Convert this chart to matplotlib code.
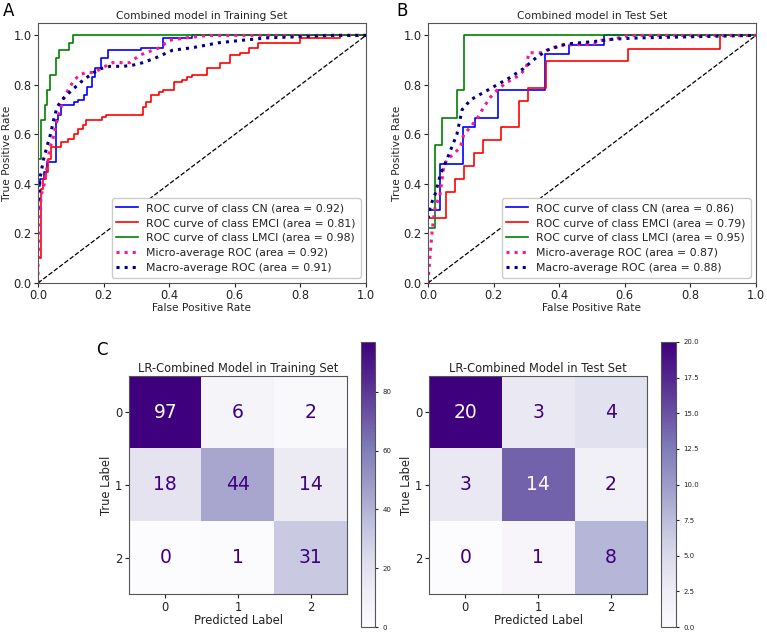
import numpy as np
from matplotlib import pyplot as plt

# ---- ROC data, training set (corner points) ----
tr_cn_fpr = [0, 0, 0.007, 0.017, 0.027, 0.055, 0.060, 0.070, 0.110, 0.122, 0.140, 0.148, 0.165, 0.175, 0.192, 0.212, 0.315, 0.380, 0.470, 1.0]
tr_cn_tpr = [0, 0.39, 0.42, 0.45, 0.49, 0.66, 0.68, 0.72, 0.73, 0.74, 0.76, 0.79, 0.83, 0.87, 0.91, 0.94, 0.95, 0.99, 1.0, 1.0]
tr_emci_fpr = [0, 0, 0.009, 0.014, 0.024, 0.029, 0.040, 0.070, 0.090, 0.110, 0.121, 0.136, 0.146, 0.195, 0.207, 0.319, 0.330, 0.345, 0.370, 0.380, 0.414, 0.439, 0.455, 0.470, 0.515, 0.556, 0.586, 0.617, 0.642, 0.670, 0.800, 0.920, 1.0]
tr_emci_tpr = [0, 0.10, 0.38, 0.42, 0.45, 0.50, 0.55, 0.57, 0.58, 0.60, 0.62, 0.64, 0.66, 0.67, 0.68, 0.71, 0.73, 0.76, 0.77, 0.78, 0.81, 0.82, 0.83, 0.84, 0.87, 0.89, 0.92, 0.93, 0.95, 0.97, 0.99, 1.0, 1.0]
tr_lmci_fpr = [0, 0, 0.010, 0.020, 0.027, 0.038, 0.056, 0.065, 0.094, 0.106, 1.0]
tr_lmci_tpr = [0, 0.50, 0.66, 0.72, 0.78, 0.84, 0.91, 0.94, 0.97, 1.0, 1.0]
tr_micro_fpr = [0, 0, 0.004, 0.009, 0.019, 0.029, 0.035, 0.045, 0.055, 0.065, 0.080, 0.096, 0.111, 0.126, 0.146, 0.172, 0.197, 0.228, 0.280, 0.310, 0.370, 0.400, 0.450, 0.520, 1.0]
tr_micro_tpr = [0, 0.10, 0.12, 0.35, 0.40, 0.48, 0.54, 0.58, 0.64, 0.69, 0.75, 0.79, 0.82, 0.84, 0.85, 0.85, 0.87, 0.89, 0.89, 0.92, 0.95, 0.98, 0.99, 1.0, 1.0]
tr_macro_fpr = [0, 0.007, 0.017, 0.027, 0.038, 0.048, 0.058, 0.073, 0.088, 0.109, 0.129, 0.149, 0.170, 0.190, 0.220, 0.260, 0.290, 0.320, 0.360, 0.410, 0.470, 0.550, 0.620, 0.700, 0.800, 0.900, 1.0]
tr_macro_tpr = [0.30, 0.43, 0.50, 0.55, 0.60, 0.66, 0.71, 0.74, 0.76, 0.785, 0.81, 0.83, 0.85, 0.865, 0.875, 0.875, 0.88, 0.89, 0.91, 0.94, 0.95, 0.97, 0.98, 0.99, 0.995, 1.0, 1.0]

# ---- ROC data, test set ----
te_cn_fpr = [0, 0, 0.0357, 0.107, 0.143, 0.214, 0.357, 0.429, 0.536, 1.0]
te_cn_tpr = [0, 0.296, 0.481, 0.630, 0.667, 0.778, 0.926, 0.963, 1.0, 1.0]
te_emci_fpr = [0, 0, 0.056, 0.083, 0.111, 0.139, 0.167, 0.222, 0.278, 0.306, 0.361, 0.611, 0.889, 1.0]
te_emci_tpr = [0, 0.263, 0.368, 0.421, 0.474, 0.526, 0.579, 0.632, 0.737, 0.789, 0.895, 0.947, 1.0, 1.0]
te_lmci_fpr = [0, 0, 0.0217, 0.0435, 0.087, 0.109, 1.0]
te_lmci_tpr = [0, 0.222, 0.556, 0.667, 0.778, 1.0, 1.0]
te_micro_fpr = [0, 0.005, 0.012, 0.017, 0.022, 0.036, 0.043, 0.048, 0.058, 0.078, 0.099, 0.109, 0.130, 0.150, 0.170, 0.190, 0.215, 0.240, 0.280, 0.300, 0.307, 0.353, 0.363, 0.400, 0.505, 0.530, 0.566, 0.610, 1.0]
te_micro_tpr = [0, 0.09, 0.20, 0.26, 0.31, 0.35, 0.42, 0.47, 0.50, 0.52, 0.55, 0.60, 0.63, 0.665, 0.71, 0.75, 0.785, 0.81, 0.84, 0.87, 0.93, 0.93, 0.94, 0.96, 0.965, 0.98, 0.985, 1.0, 1.0]
te_macro_fpr = [0, 0.007, 0.022, 0.038, 0.058, 0.073, 0.088, 0.104, 0.130, 0.170, 0.210, 0.250, 0.290, 0.330, 0.363, 0.420, 0.505, 0.566, 0.647, 1.0]
te_macro_tpr = [0.26, 0.31, 0.36, 0.44, 0.50, 0.55, 0.60, 0.70, 0.74, 0.77, 0.80, 0.83, 0.865, 0.91, 0.94, 0.965, 0.975, 0.985, 0.99, 1.0]

tr_auc = [0.92, 0.81, 0.98, 0.92, 0.91]
te_auc = [0.86, 0.79, 0.95, 0.87, 0.88]
class_names = ["CN", "EMCI", "LMCI"]

# ---- confusion matrices ----
cm_train = np.array([[97, 6, 2], [18, 44, 14], [0, 1, 31]])
cm_test = np.array([[20, 3, 4], [3, 14, 2], [0, 1, 8]])

plt.rcParams['font.family'] = 'DejaVu Sans'
plt.rcParams['text.color'] = '#222222'
plt.rcParams['axes.labelcolor'] = '#222222'
plt.rcParams['xtick.color'] = '#222222'
plt.rcParams['ytick.color'] = '#222222'
plt.rcParams['axes.edgecolor'] = '#555555'

fig = plt.figure(figsize=(7.67, 6.34), dpi=100)
W, H = 767.0, 634.0


def box(x0, y0, x1, y1):
    return [x0 / W, 1 - y1 / H, (x1 - x0) / W, (y1 - y0) / H]


def draw_roc(ax, curves, aucs, title):
    colors = ["blue", "red", "green"]
    for i in range(3):
        f, t = curves[i]
        ax.plot(f, t, color=colors[i], lw=1.2, drawstyle='steps-post',
                label="ROC curve of class %s (area = %.2f)" % (class_names[i], aucs[i]))
    f, t = curves[3]
    ax.plot(f, t, color='deeppink', ls=':', lw=2.2,
            label="Micro-average ROC (area = %.2f)" % aucs[3])
    f, t = curves[4]
    ax.plot(f, t, color='navy', ls=':', lw=2.2,
            label="Macro-average ROC (area = %.2f)" % aucs[4])
    ax.plot([0, 1], [0, 1], 'k--', lw=0.9)
    ax.set_xlim(0, 1.0)
    ax.set_ylim(0, 1.05)
    ax.set_xticks(np.arange(0, 1.01, 0.2))
    ax.set_yticks(np.arange(0, 1.01, 0.2))
    ax.tick_params(labelsize=8.3, length=3, pad=1.5)
    ax.set_xlabel("False Positive Rate", fontsize=7.7, labelpad=0.8)
    ax.set_ylabel("True Positive Rate", fontsize=7.7, labelpad=1)
    ax.set_title(title, fontsize=7.7, pad=3)
    ax.legend(loc="lower right", fontsize=7.8, handlelength=2.0, handletextpad=0.75,
              borderpad=0.45, labelspacing=0.45, framealpha=1)


ax1 = fig.add_axes(box(38, 23, 366, 283))
draw_roc(ax1, [(tr_cn_fpr, tr_cn_tpr), (tr_emci_fpr, tr_emci_tpr), (tr_lmci_fpr, tr_lmci_tpr),
               (tr_micro_fpr, tr_micro_tpr), (tr_macro_fpr, tr_macro_tpr)],
         tr_auc, "Combined model in Training Set")
ax2 = fig.add_axes(box(428, 23, 756, 283))
draw_roc(ax2, [(te_cn_fpr, te_cn_tpr), (te_emci_fpr, te_emci_tpr), (te_lmci_fpr, te_lmci_tpr),
               (te_micro_fpr, te_micro_tpr), (te_macro_fpr, te_macro_tpr)],
         te_auc, "Combined model in Test Set")


def draw_cm(ax, cax, cm, title):
    cmap = plt.get_cmap('Purples')
    im = ax.imshow(cm, cmap=cmap, vmin=cm.min(), vmax=cm.max(), aspect='auto')
    thresh = (cm.max() + cm.min()) / 2.0
    for i in range(3):
        for j in range(3):
            c = cmap(0.0) if cm[i, j] > thresh else cmap(1.0)
            ax.text(j, i, str(cm[i, j]), ha='center', va='center', fontsize=13.5, color=c)
    ax.set_xticks([0, 1, 2])
    ax.set_yticks([0, 1, 2])
    ax.tick_params(labelsize=8.3, length=3, pad=2)
    ax.set_xlabel("Predicted Label", fontsize=8.3, labelpad=0)
    ax.set_ylabel("True Label", fontsize=8.3, labelpad=1)
    ax.set_title(title, fontsize=8.3, pad=3)
    cb = fig.colorbar(im, cax=cax)
    cb.ax.tick_params(labelsize=5, length=2)
    cb.outline.set_edgecolor('#555555')


ax3 = fig.add_axes(box(129, 376, 347, 594))
cax3 = fig.add_axes(box(361, 342, 375, 627))
draw_cm(ax3, cax3, cm_train, "LR-Combined Model in Training Set")
ax4 = fig.add_axes(box(429, 376, 647, 594))
cax4 = fig.add_axes(box(661, 342, 676, 627))
draw_cm(ax4, cax4, cm_test, "LR-Combined Model in Test Set")

fig.text(9 / W, 1 - 11 / H, "A", fontsize=12, va='center', ha='center', color='black')
fig.text(402 / W, 1 - 11 / H, "B", fontsize=12, va='center', ha='center', color='black')
fig.text(102 / W, 1 - 350 / H, "C", fontsize=12, va='center', ha='center', color='black')

fig.savefig("out.png", dpi=100)
